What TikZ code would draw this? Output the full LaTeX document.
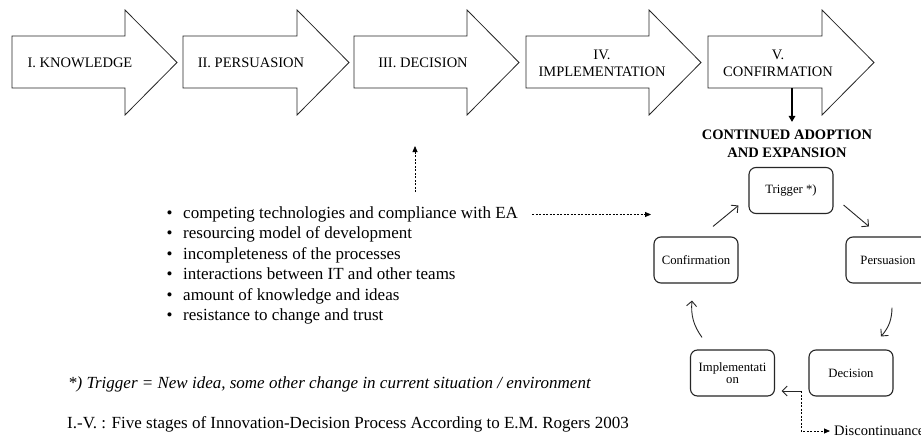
\documentclass[tikz,border=0pt]{standalone}
\usepackage{fontspec}
\setmainfont{Liberation Serif}
\usetikzlibrary{arrows.meta,calc}
\tikzset{
	stage/.style={draw=black!85, line width=0.8pt, fill=white},
	stagelabel/.style={font=\fontsize{14.5}{17}\selectfont, align=center, inner sep=0pt},
	cyclebox/.style={draw=black!85, line width=1.1pt, rounded corners=7pt, minimum width=84pt, minimum height=46pt, font=\fontsize{12.7}{12}\selectfont, align=center, inner sep=1pt},
	cyclearrow/.style={-{Straight Barb[length=5pt,width=10pt]}, line width=0.9pt, black!85},
	hint/.style={dash pattern=on 2pt off 1.5pt, line width=0.8pt, -{Triangle[length=6pt,width=5pt]}},
	bulletline/.style={anchor=west, inner sep=0pt, font=\fontsize{17}{20}\selectfont, text height=11pt, text depth=3.5pt},
}
\begin{document}
\begin{tikzpicture}[x=1pt,y=-1pt]
\useasboundingbox[fill=white] (0,0) rectangle (921,436);
% five stages
\foreach \x/\w in {12/113, 183/114, 354/113, 526/123, 708/114}
{
	\draw[stage] (\x,36) -- ++(\w,0) -- ++(0,-26) -- ++(52,52.5) -- ++(-52,52.5) -- ++(0,-27) -- ++(-\w,0) -- cycle;
}
\node[stagelabel] (stKnow) at (80,62.5) {I. KNOWLEDGE};
\node[stagelabel] (stPers) at (251,62.5) {II. PERSUASION};
\node[stagelabel] (stDeci) at (423,62.5) {III. DECISION};
\node[stagelabel] (stImpl) at (602,63.5) {IV.\\IMPLEMENTATION};
\node[stagelabel] (stConf) at (778,63.5) {V.\\CONFIRMATION};

% continued adoption
\coordinate (cfoot) at (792,88);
\node[font=\bfseries\fontsize{14.5}{18}\selectfont, align=center, inner xsep=0pt, inner ysep=8pt] (adopt) at (787,144) {CONTINUED ADOPTION\\AND EXPANSION};
\draw[line width=1.6pt, -{Triangle[length=6pt,width=6.5pt]}] (cfoot) -- (cfoot |- adopt.north);

% cycle
\node[cyclebox] (trig) at (791,190.5) {Trigger *)};
\node[cyclebox] (persu) at (888,260) {Persuasion};
\node[cyclebox] (decis) at (851,373) {Decision};
\node[cyclebox] (implem) at (732.5,373) {Implementati\\on};
\node[cyclebox] (confi) at (696,260) {Confirmation};
\draw[cyclearrow] ([shift={(17,-10)}]confi.north) -- ([shift={(-10,15)}]trig.west);
\draw[cyclearrow] ([shift={(10,14.5)}]trig.east) -- ([shift={(-19,-10)}]persu.north);
\draw[cyclearrow] ([shift={(4,24)}]persu.south) to[bend left=20] ([shift={(30,-13)}]decis.north);
\draw[cyclearrow] ([shift={(-7,18)}]decis.west) -- ([shift={(6.5,18)}]implem.east);
\draw[cyclearrow] ([shift={(-30.5,-12)}]implem.north) to[bend left=20] ([shift={(-4,17)}]confi.south);
\node[anchor=west, inner xsep=4pt, inner ysep=0pt, font=\fontsize{14.5}{17}\selectfont] (disc) at (830,431) {Discontinuance};
\draw[hint] ([shift={(-7,18)}]decis.west) |- (disc.west);

% issues
\foreach \txt [count=\i] in {competing technologies and compliance with EA, resourcing model of development, incompleteness of the processes, interactions between IT and other teams, amount of knowledge and ideas, resistance to change and trust}
{
	\node[bulletline] (b\i) at (183,194+20.5*\i) {\txt};
	\node[bulletline] (dot\i) at (166.5,194+20.5*\i) {\textbullet};
}
\coordinate (upfoot) at (415,192);
\coordinate (uptip) at (415,146);
\draw[hint] (upfoot) -- (uptip);
\coordinate (cyc) at (651,214.5);
\draw[hint] ([xshift=14]b1.east) -- (cyc);

% notes
\node[bulletline, font=\itshape\fontsize{17}{20}\selectfont] (trignote) at (68,385) {*) Trigger = New idea, some other change in current situation / environment};
\node[bulletline] (srcnote) at (67,425) {I.-V. : Five stages of Innovation-Decision Process According to E.M. Rogers 2003};
\end{tikzpicture}
\end{document}
